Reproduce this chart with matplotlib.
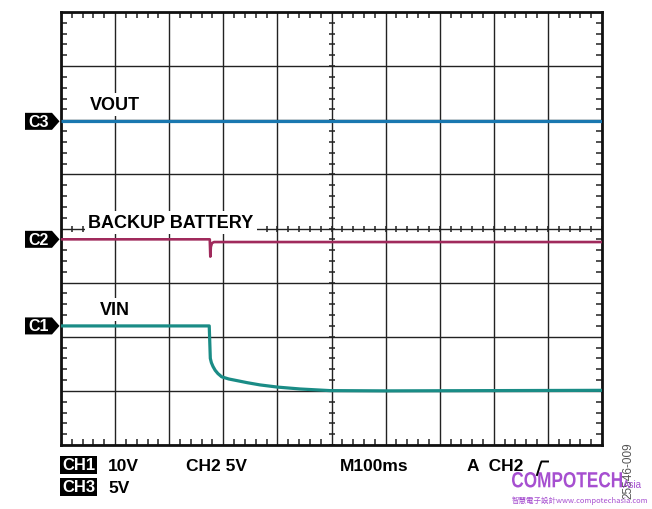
import numpy as np
import matplotlib
matplotlib.use('Agg')
import matplotlib.pyplot as plt
from matplotlib.patches import Polygon, PathPatch
from matplotlib.lines import Line2D
from matplotlib.textpath import TextPath
from matplotlib.font_manager import FontProperties
from matplotlib.transforms import Affine2D

# screen values, in divisions (10 x 8 grid, 100 ms/div)
vout_x = [0, 10]
vout_y = [5.98, 5.98]

batt_x = [0, 2.75, 2.76, 2.77, 2.79, 2.83, 10]
batt_y = [3.80, 3.80, 3.48, 3.66, 3.73, 3.75, 3.75]

vin_x = [0, 2.74, 2.76, 2.78, 2.81, 2.85, 2.90, 2.97, 3.10, 3.25, 3.45, 3.68, 4.00, 4.42, 4.97, 6.00, 10]
vin_y = [2.20, 2.20, 1.60, 1.52, 1.45, 1.38, 1.32, 1.26, 1.22, 1.19, 1.15, 1.11, 1.07, 1.035, 1.005, 1.00, 1.01]

ch_names = ['C3', 'C2', 'C1']
ch_levels = [5.98, 3.80, 2.20]

c_vout = '#1a78b0'
c_batt = '#a02a5c'
c_vin = '#1a8c86'
c_mark = '#a64fd0'

plt.rcParams['font.family'] = ['Liberation Sans', 'DejaVu Sans']

W, H = 652, 510
fig = plt.figure(figsize=(W / 100, H / 100), dpi=100)
ax = fig.add_axes([61 / W, 1 - 446 / H, 541 / W, 433 / H])
ax.set_xlim(0, 10)
ax.set_ylim(0, 8)

ax.set_xticks(np.arange(0, 11, 1))
ax.set_yticks(np.arange(0, 9, 1))
ax.set_xticks(np.arange(0, 10.01, 0.2), minor=True)
ax.set_yticks(np.arange(0, 8.01, 0.2), minor=True)
ax.tick_params(which='major', length=0, labelbottom=False, labelleft=False)
ax.tick_params(which='minor', direction='in', length=4, width=1.1, color='#222222',
               top=True, right=True)
ax.grid(True, which='major', color='#222222', lw=1.0)
for s in ax.spines.values():
    s.set_linewidth(2)
    s.set_color('#111111')

# center cross ticks
cx = np.arange(0, 10.01, 0.2)
cy = np.arange(0, 8.01, 0.2)
ax.plot(cx, np.full_like(cx, 4), ls='none', marker='|', ms=5, mew=1.1, color='#222222', zorder=2)
ax.plot(np.full_like(cy, 5), cy, ls='none', marker='_', ms=5, mew=1.1, color='#222222', zorder=2)

ax.plot(vout_x, vout_y, color=c_vout, lw=2.3, zorder=4, solid_capstyle='butt')
ax.plot(batt_x, batt_y, color=c_batt, lw=1.9, zorder=4, solid_capstyle='butt')
ax.plot(vin_x, vin_y, color=c_vin, lw=2.3, zorder=4, solid_capstyle='butt',
        solid_joinstyle='round')

lab = dict(fontsize=13, fontweight='bold', va='center', ha='left', zorder=3,
           bbox=dict(boxstyle='square,pad=0.18', fc='white', ec='none'))
ax.text(0.53, 6.29, 'VOUT', **lab)
ax.text(0.50, 4.11, 'BACKUP BATTERY', **lab)
ax.text(0.72, 2.50, 'VIN', **lab)

# channel ground markers
px = 1 / 54.1
for name, lvl in zip(ch_names, ch_levels):
    pts = [(-36 * px, lvl + 8.5 * px), (-9 * px, lvl + 8.5 * px), (-1.5 * px, lvl),
           (-9 * px, lvl - 8.5 * px), (-36 * px, lvl - 8.5 * px)]
    ax.add_patch(Polygon(pts, closed=True, fc='black', ec='none', clip_on=False, zorder=5))
    ax.text(-22 * px, lvl, name, color='white', fontsize=11.5, fontweight='bold',
            ha='center', va='center', clip_on=False, zorder=6)


def ft(x, y, s, **kw):
    fig.text(x / W, 1 - y / H, s, **kw)


bot = dict(fontsize=12.5, fontweight='bold', va='baseline', ha='left')
boxed = dict(fontsize=12, fontweight='bold', va='baseline', ha='left', color='white',
             bbox=dict(boxstyle='square,pad=0.1', fc='black', ec='none'))
ft(62, 470.5, 'CH1', **boxed)
ft(108, 471, '10V', **bot)
ft(186, 471, 'CH2 5V', **bot)
ft(340, 471, 'M100ms', **bot)
ft(467, 471, 'A  CH2', **bot)
ft(62, 492.5, 'CH3', **boxed)
ft(108, 493, '5V', **bot)

# trigger edge glyph
gx = [537, 540.5, 541.5, 548]
gy = [476, 465, 462.5, 462.5]
fig.add_artist(Line2D([v / W for v in gx], [1 - v / H for v in gy], color='black', lw=1.4,
                      transform=fig.transFigure))

# figure id and watermark
ft(628, 471, '25546-009', rotation=90, fontsize=8.5, color='#555555', ha='center', va='center')

tp = TextPath((0, 0), 'COMPOTECH', size=1,
              prop=FontProperties(family='Liberation Sans', weight='bold'))
ext = tp.get_extents()
sx, sy = 110 / ext.width, 15.5 / ext.height
tr = Affine2D().translate(-ext.x0, -ext.y0).scale(sx, sy).translate(512, H - 488.5)
fig.add_artist(PathPatch(tr.transform_path(tp), fc=c_mark, ec='none', transform=None))

ft(623, 488.5, 'Asia', fontsize=7, color=c_mark, ha='left', va='baseline')
ft(512, 503, '智慧電子設計www.compotechasia.com', fontsize=5.4, color=c_mark,
   ha='left', va='baseline', family=['Noto Sans CJK TC', 'DejaVu Sans'])

fig.savefig('out.png', dpi=100)
